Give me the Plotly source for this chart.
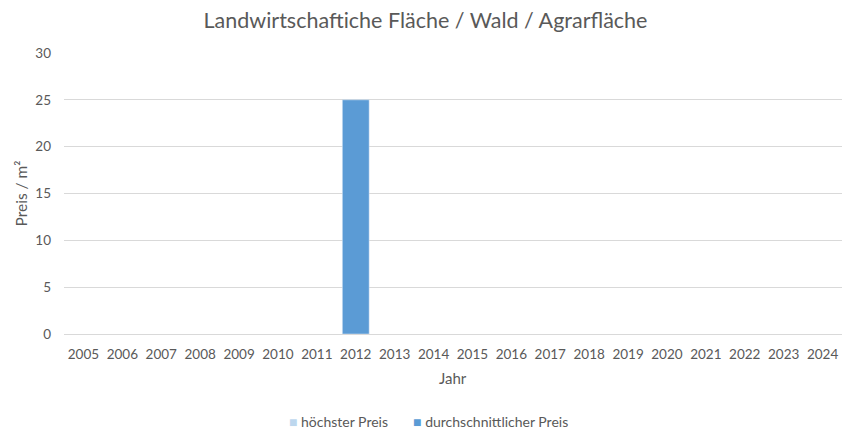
import plotly.graph_objects as go

years = [str(y) for y in range(2005, 2025)]
hoechster = [None] * 20
durchschnitt = [None] * 20
durchschnitt[years.index("2012")] = 25

series_names = ["höchster Preis", "durchschnittlicher Preis"]
series_colors = ["#BDD7EE", "#5B9BD5"]

font_fam = "Lato, 'Open Sans', sans-serif"
gray = "#595959"

W, H = 851, 440
ML, MR, MT, MB = 64, 9, 53, 106
PW, PH = W - ML - MR, H - MT - MB

fig = go.Figure()
fig.add_trace(go.Bar(x=years, y=hoechster, name=series_names[0],
                     marker_color=series_colors[0], width=0.69))
fig.add_trace(go.Bar(x=years, y=durchschnitt, name=series_names[1],
                     marker_color=series_colors[1], width=0.69))

legend_text = (
    f'<span style="color:{series_colors[0]}">■</span> {series_names[0]}'
    + "&nbsp;" * 7
    + f'<span style="color:{series_colors[1]}">■</span> {series_names[1]}'
)

fig.update_layout(
    width=W, height=H,
    margin=dict(l=ML, r=MR, t=MT, b=MB, autoexpand=False),
    paper_bgcolor="white", plot_bgcolor="white",
    barmode="overlay",
    showlegend=False,
    font=dict(family=font_fam, color=gray, size=13),
    title=dict(text="Landwirtschaftiche Fläche / Wald / Agrarfläche",
               x=0.5, xanchor="center", y=1 - 20 / H, yanchor="middle",
               font=dict(size=21.5, color=gray)),
    xaxis=dict(type="category", showgrid=False, showline=True,
               linecolor="#D9D9D9", ticks="", ticklabelstandoff=8,
               tickfont=dict(size=13.5, color=gray)),
    yaxis=dict(range=[0, 30], dtick=5, showgrid=True, gridcolor="#D9D9D9",
               zeroline=False, ticks="", ticklabelstandoff=12,
               tickfont=dict(size=13.5, color=gray)),
    annotations=[
        dict(text="Jahr", x=0.5, xref="paper", y=-44 / PH, yref="paper",
             xanchor="center", yanchor="middle", showarrow=False,
             font=dict(size=15, color=gray)),
        dict(text="Preis / m²", x=(20 - ML) / PW, xref="paper", y=0.5,
             yref="paper", xanchor="center", yanchor="middle",
             textangle=-90, showarrow=False, font=dict(size=15.5, color=gray)),
        dict(text=legend_text, x=0.5 + (428 - (ML + PW / 2)) / PW, xref="paper",
             y=-(421 - (MT + PH)) / PH, yref="paper", xanchor="center",
             yanchor="middle", showarrow=False, font=dict(size=14, color=gray)),
    ],
)

fig.write_html("out.html")
